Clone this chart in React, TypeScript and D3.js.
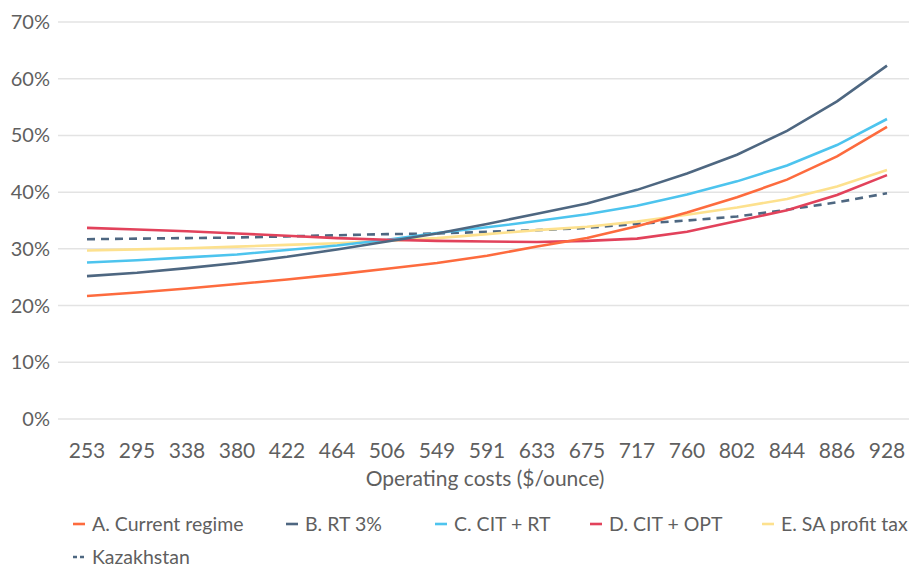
import React from 'react';
import * as d3 from 'd3';

// operating costs, $/ounce
const costs = ['253', '295', '338', '380', '422', '464', '506', '549', '591', '633', '675', '717', '760', '802', '844', '886', '928'];

// effective tax rate, %
const currentRegime = [21.7, 22.3, 23.0, 23.8, 24.6, 25.5, 26.5, 27.5, 28.8, 30.4, 31.9, 34.0, 36.4, 39.1, 42.2, 46.3, 51.5];
const rt3 = [25.2, 25.8, 26.6, 27.5, 28.6, 29.9, 31.3, 32.7, 34.4, 36.2, 38.0, 40.4, 43.3, 46.6, 50.8, 56.0, 62.3];
const citRt = [27.6, 28.0, 28.5, 29.0, 29.8, 30.6, 31.6, 32.8, 33.8, 34.9, 36.1, 37.6, 39.6, 41.9, 44.7, 48.3, 52.9];
const citOpt = [33.7, 33.4, 33.1, 32.7, 32.3, 31.9, 31.6, 31.4, 31.3, 31.2, 31.4, 31.8, 33.0, 34.9, 36.8, 39.5, 43.0];
const saProfit = [29.7, 29.9, 30.1, 30.4, 30.7, 31.0, 31.4, 31.9, 32.6, 33.3, 33.9, 34.8, 36.0, 37.3, 38.8, 41.0, 43.9];
const kazakhstan = [31.7, 31.8, 31.9, 32.0, 32.2, 32.4, 32.6, 32.7, 33.0, 33.3, 33.7, 34.4, 35.0, 35.7, 36.9, 38.2, 39.8];

const yTicks = [0, 10, 20, 30, 40, 50, 60, 70];

const series = [
  { name: 'A. Current regime', values: currentRegime, color: '#fd6b3e', dash: false },
  { name: 'B. RT 3%', values: rt3, color: '#4e6781', dash: false },
  { name: 'C. CIT + RT', values: citRt, color: '#4dc4ee', dash: false },
  { name: 'D. CIT + OPT', values: citOpt, color: '#e2425b', dash: false },
  { name: 'E. SA profit tax', values: saProfit, color: '#fde18e', dash: false },
  { name: 'Kazakhstan', values: kazakhstan, color: '#4e6781', dash: true },
];

// legend slots (x of swatch, row)
const legendPos = [
  [73, 0], [286, 0], [435, 0], [590, 0], [762, 0], [73, 1],
];

const W = 909, H = 570;
const font = 'Lato, "Open Sans", sans-serif';
const textColor = '#5f5f5f';

export default function App() {
  const x = d3.scalePoint<string>().domain(costs).range([87, 887]);
  const y = d3.scaleLinear().domain([0, 70]).range([419, 22]);

  const line = d3.line<number>()
    .x((_, i) => x(costs[i]) as number)
    .y(d => y(d));

  // draw order: dashed underneath, dark line on top like the original
  const drawOrder = [5, 4, 2, 3, 0, 1];

  return (
    <svg width={W} height={H} style={{ position: 'absolute', left: 0, top: 0, background: '#fff' }}>
      {yTicks.map(t => (
        <g key={t}>
          <line x1={58} x2={W} y1={y(t)} y2={y(t)} stroke="#e3e3e3" strokeWidth={1.5} />
          <text x={50} y={y(t)} dy="0.35em" textAnchor="end" fontFamily={font} fontSize={20} fill={textColor}>
            {t}%
          </text>
        </g>
      ))}

      {costs.map(c => (
        <text key={c} x={x(c)} y={451} dy="0.35em" textAnchor="middle" fontFamily={font} fontSize={21} fill={textColor}>
          {c}
        </text>
      ))}
      <text x={485} y={479} dy="0.35em" textAnchor="middle" fontFamily={font} fontSize={21} fill={textColor}>
        Operating costs ($/ounce)
      </text>

      {drawOrder.map(i => {
        const s = series[i];
        return (
          <path key={s.name} d={line(s.values) || ''} fill="none" stroke={s.color}
            strokeWidth={2.6} strokeDasharray={s.dash ? '8,6' : undefined} />
        );
      })}

      {series.map((s, i) => {
        const [lx, row] = legendPos[i];
        const ly = 524 + row * 33;
        return (
          <g key={s.name}>
            <line x1={lx} x2={lx + 12} y1={ly} y2={ly} stroke={s.color} strokeWidth={2.6}
              strokeDasharray={s.dash ? '4,3' : undefined} />
            <text x={lx + 19} y={ly} dy="0.35em" fontFamily={font} fontSize={19.5} fill={textColor}>
              {s.name}
            </text>
          </g>
        );
      })}
    </svg>
  );
}
